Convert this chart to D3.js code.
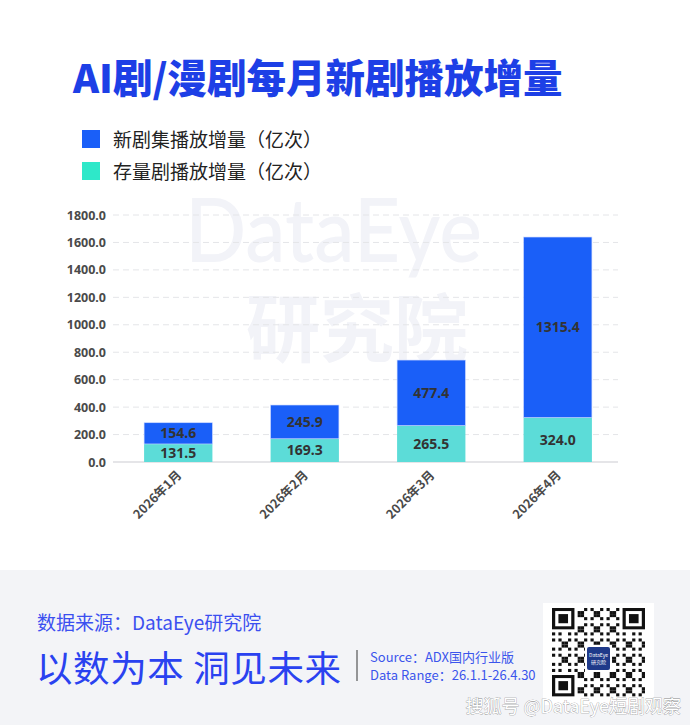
<!DOCTYPE html>
<html>
<head>
<meta charset="utf-8">
<script src="https://cdn.jsdelivr.net/npm/d3@7/dist/d3.min.js"></script>
<style>
  body { margin: 0; background: #fff; }
  svg { display: block; font-family: "Noto Sans CJK SC", "Noto Sans", sans-serif; }
</style>
</head>
<body>
<div id="chart"></div>
<script>
// data
var months = ["2026年1月", "2026年2月", "2026年3月", "2026年4月"];
var newPlays = [154.6, 245.9, 477.4, 1315.4];
var stockPlays = [131.5, 169.3, 265.5, 324.0];
var yTicks = [0, 200, 400, 600, 800, 1000, 1200, 1400, 1600, 1800];
var seriesNames = ["新剧集播放增量（亿次）", "存量剧播放增量（亿次）"];

var W = 690, H = 725;
var blue = "#1a5ff8", teal = "#5cdcd8";

var svg = d3.select("#chart").append("svg").attr("width", W).attr("height", H);

// watermark
svg.append("text").attr("x", 185).attr("y", 262)
    .attr("textLength", 297).attr("lengthAdjust", "spacingAndGlyphs")
    .style("font-size", "88px").style("font-weight", 500).style("fill", "#f2f3f8")
    .style("font-family", "Lato, 'Noto Sans', sans-serif").text("DataEye");
svg.append("text").attr("x", 357).attr("y", 356).attr("text-anchor", "middle")
    .style("font-size", "74px").style("font-weight", 700).style("fill", "#f2f3f8")
    .text("研究院");

// title
svg.append("text").attr("x", 73).attr("y", 93)
    .style("font-size", "39.5px").style("font-weight", 900).style("fill", "#1d3fe6")
    .text("AI剧/漫剧每月新剧播放增量");

// legend
var legend = svg.append("g");
[blue, "#2ee8c9"].forEach(function (c, i) {
    legend.append("rect").attr("x", 82).attr("y", 130 + i * 32).attr("width", 18).attr("height", 18).attr("fill", c);
    legend.append("text").attr("x", 113).attr("y", 147 + i * 32)
        .style("font-size", "19px").style("fill", "#222").text(seriesNames[i]);
});

// scales
var x = d3.scaleBand().domain(months).range([115, 621]).paddingInner(0.46).paddingOuter(0.23);
var y = d3.scaleLinear().domain([0, 1800]).range([462, 215]);

// grid
svg.append("g").selectAll("line").data(yTicks.slice(1)).join("line")
    .attr("x1", 113).attr("x2", 618)
    .attr("y1", d => y(d)).attr("y2", d => y(d))
    .attr("stroke", "#e4e5e8").attr("stroke-dasharray", "6,4");
svg.append("line").attr("x1", 113).attr("x2", 618).attr("y1", y(0)).attr("y2", y(0))
    .attr("stroke", "#dcdde0").attr("stroke-width", 1.5);

// y axis
var yAxis = svg.append("g").attr("transform", "translate(106,0)")
    .call(d3.axisLeft(y).tickValues(yTicks).tickFormat(d3.format(".1f")).tickSize(0).tickPadding(0));
yAxis.select(".domain").remove();
yAxis.selectAll("text").style("font-size", "12.5px").style("font-weight", 700).style("fill", "#4a4a4a")
    .style("font-family", "'Noto Sans', sans-serif");

// bars
var rows = months.map((m, i) => ({ m: m, stock: stockPlays[i], add: newPlays[i] }));
var bars = svg.append("g");
bars.selectAll(".s").data(rows).join("rect")
    .attr("x", d => x(d.m)).attr("width", x.bandwidth())
    .attr("y", d => y(d.stock)).attr("height", d => y(0) - y(d.stock))
    .attr("fill", teal);
bars.selectAll(".n").data(rows).join("rect")
    .attr("x", d => x(d.m)).attr("width", x.bandwidth())
    .attr("y", d => y(d.stock + d.add)).attr("height", d => y(d.stock) - y(d.stock + d.add))
    .attr("fill", blue).attr("stroke", "#c9d6ff").attr("stroke-width", 0.6);

// value labels
var lab = svg.append("g").style("font-size", "14px").style("font-weight", 700).style("fill", "#333")
    .style("font-family", "'Noto Sans', sans-serif").attr("text-anchor", "middle");
lab.selectAll(".ls").data(rows).join("text")
    .attr("x", d => x(d.m) + x.bandwidth() / 2)
    .attr("y", d => (y(0) + y(d.stock)) / 2 + 5)
    .text(d => d.stock.toFixed(1));
lab.selectAll(".ln").data(rows).join("text")
    .attr("x", d => x(d.m) + x.bandwidth() / 2)
    .attr("y", d => (y(d.stock) + y(d.stock + d.add)) / 2 + 5)
    .text(d => d.add.toFixed(1));

// x labels
svg.append("g").selectAll("text").data(months).join("text")
    .attr("transform", d => "translate(" + (x(d) + x.bandwidth() / 2 + 4) + ",476) rotate(-45)")
    .attr("text-anchor", "end")
    .style("font-size", "12.5px").style("font-weight", 700).style("fill", "#4a4a4a")
    .text(d => d);

// footer
svg.append("rect").attr("x", 0).attr("y", 570).attr("width", W).attr("height", H - 570).attr("fill", "#f3f4f7");
svg.append("text").attr("x", 37).attr("y", 630).style("font-size", "19px").style("fill", "#3b4ff0")
    .text("数据来源：DataEye研究院");
svg.append("text").attr("x", 36).attr("y", 682).style("font-size", "36.5px").style("letter-spacing", "0.6px")
    .style("fill", "#2a42f0")
    .text("以数为本 洞见未来");
svg.append("line").attr("x1", 357).attr("x2", 357).attr("y1", 650).attr("y2", 681).attr("stroke", "#555").attr("stroke-width", 1.2);
svg.append("text").attr("x", 370).attr("y", 662).style("font-size", "13px").style("fill", "#3b55ec")
    .text("Source：ADX国内行业版");
svg.append("text").attr("x", 370).attr("y", 680).style("font-size", "13px").style("fill", "#3b55ec")
    .text("Data Range：26.1.1-26.4.30");

// qr code (decorative)
var qr = svg.append("g").attr("transform", "translate(543,603)");
qr.append("rect").attr("width", 111).attr("height", 102).attr("fill", "#fff");
var n = 29, cell = 93 / n;
var mods = [];
for (var r = 0; r < n; r++) for (var c = 0; c < n; c++) {
    var inFinder = (r < 8 && c < 8) || (r < 8 && c >= n - 8) || (r >= n - 8 && c < 8);
    if (inFinder) continue;
    if (((r * 7 + c * 13 + r * c * 3) % 5) < 2) mods.push([r, c]);
}
qr.selectAll(".m").data(mods).join("rect")
    .attr("x", d => 9 + d[1] * cell).attr("y", d => 5 + d[0] * cell * 0.95)
    .attr("width", cell).attr("height", cell * 0.95).attr("fill", "#111");
[[0, 0], [0, n - 7], [n - 7, 0]].forEach(function (p) {
    var gx = 9 + p[1] * cell, gy = 5 + p[0] * cell * 0.95;
    qr.append("rect").attr("x", gx).attr("y", gy).attr("width", cell * 7).attr("height", cell * 7 * 0.95).attr("fill", "#111");
    qr.append("rect").attr("x", gx + cell).attr("y", gy + cell * 0.95).attr("width", cell * 5).attr("height", cell * 5 * 0.95).attr("fill", "#fff");
    qr.append("rect").attr("x", gx + cell * 2).attr("y", gy + cell * 2 * 0.95).attr("width", cell * 3).attr("height", cell * 3 * 0.95).attr("fill", "#111");
});
qr.append("rect").attr("x", 42).attr("y", 42).attr("width", 27).attr("height", 27).attr("fill", "#fff");
qr.append("rect").attr("x", 44).attr("y", 44).attr("width", 23).attr("height", 23).attr("rx", 2).attr("fill", "#1f3a8a");
qr.append("text").attr("x", 55.5).attr("y", 54).attr("text-anchor", "middle").style("font-size", "5px").style("fill", "#fff").text("DataEye");
qr.append("text").attr("x", 55.5).attr("y", 61).attr("text-anchor", "middle").style("font-size", "5px").style("fill", "#fff").text("研究院");

// platform watermark
svg.append("text").attr("x", 681).attr("y", 713).attr("text-anchor", "end")
    .style("font-size", "18px").style("fill", "#fff")
    .style("stroke", "#888").style("stroke-width", 0.6).style("paint-order", "stroke")
    .text("搜狐号 @DataEye短剧观察");
</script>
</body>
</html>
